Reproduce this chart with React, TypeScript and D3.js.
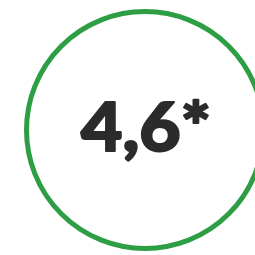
import { useEffect, useRef } from "react"
import * as d3 from "d3"

const values = ["4,6*"]
const ringColor = "#2e9e45"
const textColor = "#2b2b2b"

const App = () => {
  const svgRef = useRef<SVGSVGElement>(null)

  useEffect(() => {
    const width = 255
    const height = 255
    const svg = d3.select(svgRef.current).attr("width", width).attr("height", height)
    svg.selectAll("*").remove()

    // ring
    svg
      .append("circle")
      .attr("cx", 145)
      .attr("cy", 130)
      .attr("r", 118.5)
      .attr("fill", "none")
      .attr("stroke", ringColor)
      .attr("stroke-width", 5)

    // value label (stroked a bit to look like a black weight)
    svg
      .selectAll(".value")
      .data(values)
      .enter()
      .append("text")
      .attr("class", "value")
      .attr("x", 146)
      .attr("y", 151)
      .attr("text-anchor", "middle")
      .attr("textLength", 130)
      .attr("lengthAdjust", "spacingAndGlyphs")
      .style("font-family", "Lato, 'DejaVu Sans', sans-serif")
      .style("font-weight", 900)
      .style("font-size", "67px")
      .attr("fill", textColor)
      .attr("stroke", textColor)
      .attr("stroke-width", 2)
      .attr("stroke-linejoin", "round")
      .text((d) => d)
  }, [])

  return <svg ref={svgRef} style={{ position: "absolute", left: 0, top: 0 }}></svg>
}

export default App
